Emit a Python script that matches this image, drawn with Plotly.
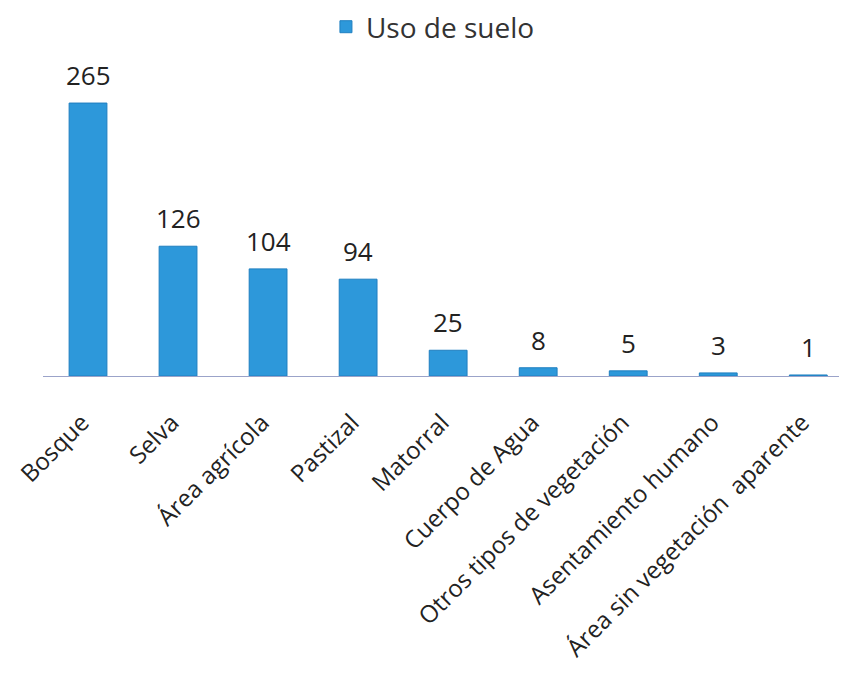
import plotly.graph_objects as go

categories = ["Bosque", "Selva", "Área agrícola", "Pastizal", "Matorral",
              "Cuerpo de Agua", "Otros tipos de vegetación",
              "Asentamiento humano", "Área sin vegetación  aparente"]
values = [265, 126, 104, 94, 25, 8, 5, 3, 1]
series_name = "Uso de suelo"

FONT = "Open Sans, Noto Sans, DejaVu Sans, sans-serif"

fig = go.Figure()
fig.add_trace(go.Bar(
    x=categories, y=values, name=series_name,
    marker=dict(color="#2d98da", line=dict(color="#1f7fc0", width=1)),
    width=0.42,
    showlegend=True,
))
for c, v in zip(categories, values):
    fig.add_annotation(x=c, y=v, text=str(v), showarrow=False,
                       yanchor="bottom", yshift=8,
                       font=dict(family=FONT, size=26, color="#222222"))

fig.update_layout(
    width=847, height=679,
    margin=dict(l=35, r=8, t=52, b=311, autoexpand=False),
    paper_bgcolor="white", plot_bgcolor="white",
    font=dict(family=FONT, color="#222222"),
    legend=dict(orientation="h", x=0.485, xanchor="center",
                y=0.972, yref="container", yanchor="middle",
                font=dict(family=FONT, size=28, color="#333333"),
                itemwidth=30),
    xaxis=dict(range=[-0.5, 8.43], showline=True, linecolor="#9ba3c9", linewidth=1,
               ticks="", tickangle=-45, tickfont=dict(family=FONT, size=24, color="#222222"),
               ticklabelstandoff=22, ticklabelshift=-6, showgrid=False, automargin=False),
    yaxis=dict(range=[0, 306.8], visible=False, showgrid=False, zeroline=False),
)
fig.write_html("out.html")
